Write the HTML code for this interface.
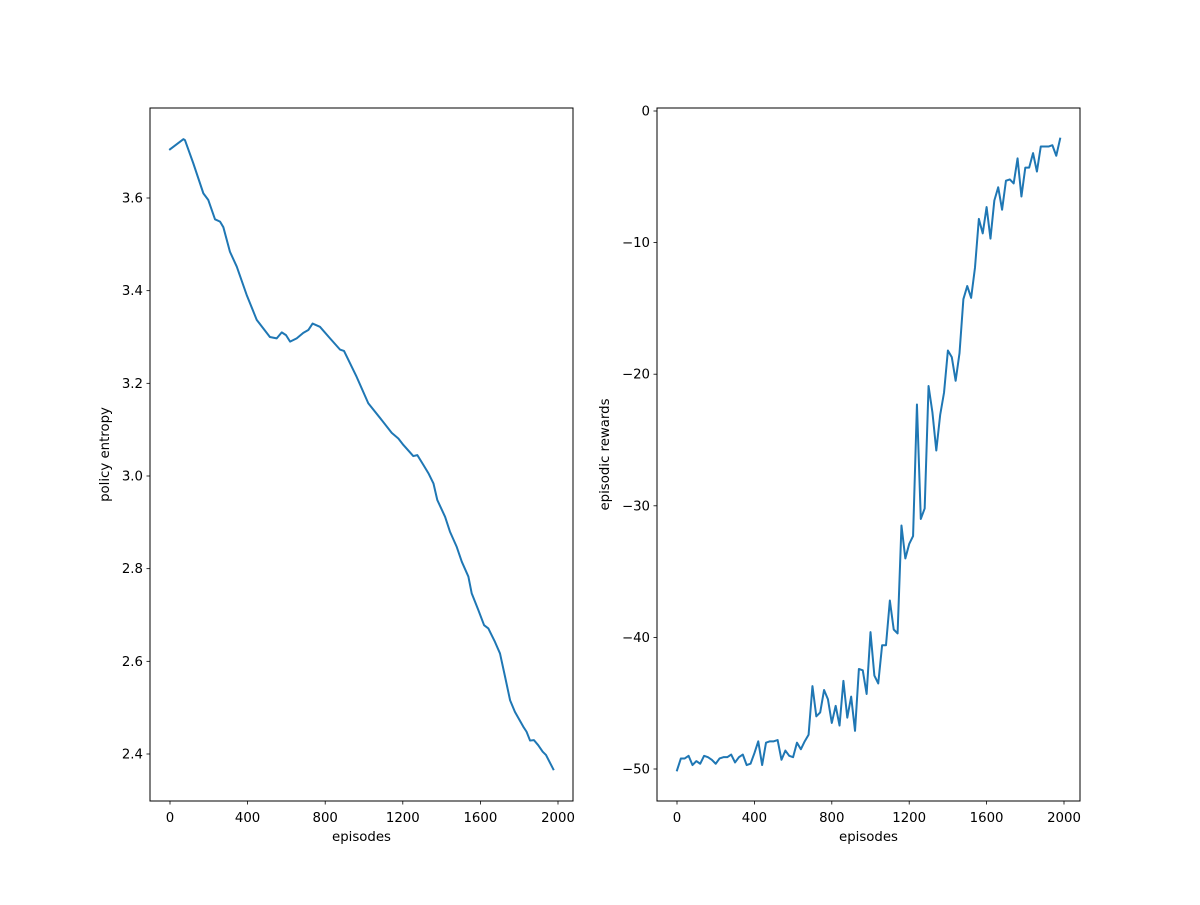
<!DOCTYPE html>
<html><head><meta charset="utf-8"><style>
html,body{margin:0;padding:0;background:#fff;}
svg text{font-family:"DejaVu Sans","Liberation Sans",sans-serif;font-size:13.3px;fill:#000;}
</style></head><body>
<svg id="fig" width="1200" height="900" xmlns="http://www.w3.org/2000/svg"></svg>
<script>
const entropyEpisodes=[0,69,77,120,172,197,232,258,275,309,344,395,447,515,550,576,598,619,653,687,713,735,773,825,876,897,962,1022,1091,1143,1177,1203,1254,1275,1306,1332,1358,1378,1418,1443,1478,1504,1538,1555,1589,1619,1641,1675,1701,1727,1753,1778,1821,1838,1856,1876,1898,1921,1938,1976];
const entropyValues=[3.705,3.727,3.725,3.675,3.610,3.596,3.554,3.549,3.537,3.484,3.452,3.391,3.337,3.300,3.297,3.310,3.304,3.290,3.297,3.309,3.315,3.329,3.322,3.297,3.273,3.270,3.214,3.157,3.121,3.093,3.081,3.067,3.043,3.045,3.024,3.006,2.984,2.948,2.912,2.880,2.847,2.815,2.783,2.747,2.711,2.678,2.671,2.642,2.617,2.567,2.516,2.491,2.459,2.448,2.429,2.430,2.419,2.405,2.398,2.367];
const rewardValues=[-50.1,-49.2,-49.2,-49.0,-49.7,-49.4,-49.6,-49.0,-49.1,-49.3,-49.6,-49.2,-49.1,-49.1,-48.9,-49.5,-49.1,-48.9,-49.7,-49.6,-48.8,-47.9,-49.7,-48.0,-47.9,-47.9,-47.8,-49.3,-48.6,-49.0,-49.1,-48.0,-48.5,-47.9,-47.4,-43.7,-46.0,-45.7,-44.0,-44.7,-46.5,-45.2,-46.7,-43.3,-46.1,-44.5,-47.1,-42.4,-42.5,-44.3,-39.6,-42.9,-43.5,-40.6,-40.6,-37.2,-39.4,-39.7,-31.5,-34.0,-32.9,-32.3,-22.3,-31.0,-30.2,-20.9,-22.9,-25.8,-23.1,-21.4,-18.2,-18.7,-20.5,-18.4,-14.3,-13.3,-14.2,-11.9,-8.2,-9.3,-7.3,-9.7,-6.8,-5.8,-7.5,-5.3,-5.2,-5.5,-3.6,-6.5,-4.3,-4.3,-3.2,-4.6,-2.7,-2.7,-2.7,-2.6,-3.4,-2.1];
const rewardStep=20;
const xTicks=[0,400,800,1200,1600,2000];
const entropyTicks=[2.4,2.6,2.8,3.0,3.2,3.4,3.6];
const rewardTicks=[-50,-40,-30,-20,-10,0];

const NS="http://www.w3.org/2000/svg";
const svg=document.getElementById('fig');
function mk(tag,attrs,parent){const e=document.createElementNS(NS,tag);for(const k in attrs)e.setAttribute(k,attrs[k]);(parent||svg).appendChild(e);return e;}

function panel(cfg){
  const g=mk('g',{});
  
  
  const sx=v=>cfg.x0+(v-0)*(cfg.x2000-cfg.x0)/2000;
  const sy=cfg.sy;
  let d='';
  cfg.xs.forEach((xv,i)=>{d+=(i?'L':'M')+sx(xv).toFixed(2)+' '+sy(cfg.ys[i]).toFixed(2);});
  const p=mk('path',{d:d,fill:'none',stroke:'#1f77b4','stroke-width':2,'stroke-linejoin':'round','stroke-linecap':'square'},g);
  
  
  const r=mk('rect',{x:cfg.L,y:108,width:cfg.R-cfg.L,height:693,fill:'none',stroke:'#000','stroke-width':1},g);
  
  
  xTicks.forEach(t=>{
    const x=sx(t);
    mk('line',{x1:x,x2:x,y1:801,y2:804.5,stroke:'#000','stroke-width':0.8},g);
    const tx=mk('text',{x:x,y:822,'text-anchor':'middle'},g);tx.textContent=t;
    
    
  });
  cfg.yTicks.forEach(t=>{
    const y=sy(t);
    mk('line',{x1:cfg.L-3.5,x2:cfg.L,y1:y,y2:y,stroke:'#000','stroke-width':0.8},g);
    const tx=mk('text',{x:cfg.L-7,y:y+4.5,'text-anchor':'end'},g);tx.textContent=cfg.fmt(t);
    
    
  });
  const xl=mk('text',{x:(cfg.L+cfg.R)/2,y:841,'text-anchor':'middle'},g);xl.textContent='episodes';
  
  
  const yl=mk('text',{x:0,y:0,'text-anchor':'middle',transform:`translate(${cfg.yl},454.5) rotate(-90)`},g);yl.textContent=cfg.ylabel;
  
  
}
panel({name:'entropy-chart',lineName:'entropy-line',L:150,R:573,x0:170,x2000:558,
  sy:v=>198+(3.6-v)*463.33,xs:entropyEpisodes,ys:entropyValues,yTicks:entropyTicks,
  fmt:t=>t.toFixed(1),ylabel:'policy entropy',yl:109});
panel({name:'rewards-chart',lineName:'rewards-line',L:657,R:1080,x0:677,x2000:1064,
  sy:v=>111+(0-v)*13.16,xs:rewardValues.map((v,i)=>i*rewardStep),ys:rewardValues,yTicks:rewardTicks,
  fmt:t=>t<0?'\u2212'+Math.abs(t):String(t),ylabel:'episodic rewards',yl:609});
</script>
</body></html>
